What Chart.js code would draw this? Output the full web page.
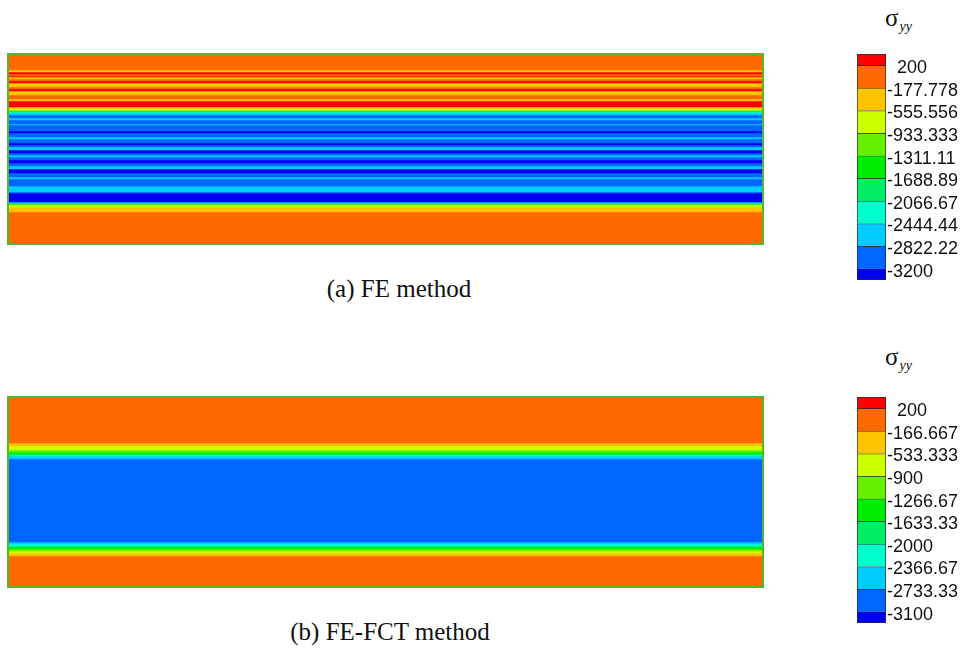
<!DOCTYPE html>
<html>
<head>
<meta charset="utf-8">
<script src="https://cdn.jsdelivr.net/npm/chart.js@4/dist/chart.umd.min.js"></script>
<style>
  html, body { margin: 0; padding: 0; background: #ffffff; }
  body { width: 973px; height: 650px; position: relative; overflow: hidden; }
  .frame { position: absolute; border: 2px solid #58b42e; }
  .frame canvas, .cb canvas { display: block; }
  .cb { position: absolute; }
  .caption { position: absolute; font-family: "Liberation Serif", "Times New Roman", serif; font-size: 25px; color: #111; white-space: nowrap; transform: translateX(-50%); }
  .sigma { position: absolute; font-family: "Liberation Serif", "Times New Roman", serif; color: #111; white-space: nowrap; line-height: 28px; }
  .sigma .s { font-size: 25px; }
  .sigma .sub { font-size: 14px; font-style: italic; position: relative; top: 5px; margin-left: 1px; }
</style>
</head>
<body>
<div class="sigma" style="left:885px; top:4px;"><span class="s">σ</span><span class="sub">yy</span></div>
<div class="frame" style="left:7px; top:53px;"><canvas id="plotA" width="753" height="188"></canvas></div>
<div class="cb" style="left:857px; top:38px;"><canvas id="barA" width="116" height="258"></canvas></div>
<div class="caption" style="left:399px; top:275px;">(a) FE method</div>

<div class="sigma" style="left:885px; top:343px;"><span class="s">σ</span><span class="sub">yy</span></div>
<div class="frame" style="left:7px; top:396px;"><canvas id="plotB" width="753" height="188"></canvas></div>
<div class="cb" style="left:857px; top:381px;"><canvas id="barB" width="116" height="258"></canvas></div>
<div class="caption" style="left:390px; top:618px;">(b) FE-FCT method</div>

<script>
// Contour level colours (index 0 = highest stress, 10 = lowest)
const levelColors = ['#ff0000', '#ff6a00', '#ffc400', '#ccff00', '#66f000', '#00ee00',
                     '#00ee66', '#00ffcc', '#00ccff', '#0066ff', '#0000f0'];

// (a) FE method: band edges (depth from top of plate) and contour level per band
const bandEdgesA = [0, 15, 17, 19, 21, 22, 24, 26, 28, 32, 34, 36, 40, 44, 46, 52, 54, 55, 56, 57,
                    58, 60, 63, 65, 69, 70, 76, 78, 82, 84, 88, 90, 92, 95, 98, 100, 102, 105, 108,
                    111, 114, 118, 122, 124, 131, 137, 138, 147, 148, 149, 150, 152, 157, 188];
const bandLevelsA = [1, 2, 0, 1, 0, 2, 1, 0, 2, 1,
                     0, 2, 1, 2, 0, 2, 3, 4, 6, 7,
                     8, 9, 8, 9, 8, 9, 10, 9, 8, 9,
                     10, 9, 8, 10, 9, 8, 9, 10, 9, 8,
                     10, 9, 8, 9, 8, 9, 10, 8, 6, 4,
                     3, 2, 1];

// (b) FE-FCT method
const bandEdgesB = [0, 45, 48, 52, 54, 56, 57, 58, 61, 144, 146, 148, 149, 151, 153, 155, 158, 188];
const bandLevelsB = [1, 2, 3, 4, 5, 6, 7, 8, 9, 8, 7, 6, 5, 4, 3, 2, 1];

// Colour legend levels
const legendTicksA = [200, -177.778, -555.556, -933.333, -1311.11, -1688.89, -2066.67, -2444.44, -2822.22, -3200];
const legendTicksB = [200, -166.667, -533.333, -900, -1266.67, -1633.33, -2000, -2366.67, -2733.33, -3100];

function contourChart(id, edges, levels) {
  const datasets = levels.map((lv, i) => ({
    data: [[edges[i], edges[i + 1]]],
    backgroundColor: levelColors[lv],
    borderWidth: 0,
    grouped: false,
    barPercentage: 1,
    categoryPercentage: 1
  }));
  new Chart(document.getElementById(id), {
    type: 'bar',
    data: { labels: ['plate'], datasets },
    options: {
      responsive: false,
      animation: false,
      events: [],
      layout: { padding: 0 },
      plugins: { legend: { display: false }, tooltip: { enabled: false }, title: { display: false } },
      scales: {
        x: { display: false },
        y: { display: false, reverse: true, min: edges[0], max: edges[edges.length - 1] }
      }
    }
  });
}

function legendChart(id, ticks) {
  const step = ticks[0] - ticks[1];
  const top = ticks[0] + step / 2;
  const bottom = ticks[ticks.length - 1] - step / 2;
  const bounds = [top].concat(ticks, [bottom]);
  const datasets = levelColors.map((c, i) => ({
    data: [[bounds[i + 1], bounds[i]]],
    backgroundColor: c,
    borderColor: '#2a2a2a',
    borderWidth: { top: 1, left: 1, right: 1, bottom: i === levelColors.length - 1 ? 1 : 0 },
    borderSkipped: false,
    grouped: false,
    barPercentage: 1,
    categoryPercentage: 1
  }));
  new Chart(document.getElementById(id), {
    type: 'bar',
    data: { labels: ['level'], datasets },
    options: {
      responsive: false,
      animation: false,
      events: [],
      layout: { padding: { top: 16, bottom: 16, left: 0, right: 0 } },
      plugins: { legend: { display: false }, tooltip: { enabled: false } },
      scales: {
        x: { display: false },
        y: {
          position: 'right',
          min: bottom,
          max: top,
          grid: { display: false, drawTicks: false },
          border: { display: false },
          afterBuildTicks: (scale) => { scale.ticks = ticks.map(v => ({ value: v })); },
          afterFit: (scale) => { scale.width = 87; },
          ticks: {
            padding: 1,
            labelOffset: 3,
            crossAlign: 'near',
            color: '#111111',
            font: { family: 'Liberation Sans, Arial, sans-serif', size: 18 },
            callback: (v) => {
              const i = ticks.indexOf(v);
              const s = i >= 0 ? String(ticks[i]) : String(v);
              return v >= 0 ? '  ' + s : s;
            }
          }
        }
      }
    }
  });
}

contourChart('plotA', bandEdgesA, bandLevelsA);
contourChart('plotB', bandEdgesB, bandLevelsB);
legendChart('barA', legendTicksA);
legendChart('barB', legendTicksB);
</script>
</body>
</html>
